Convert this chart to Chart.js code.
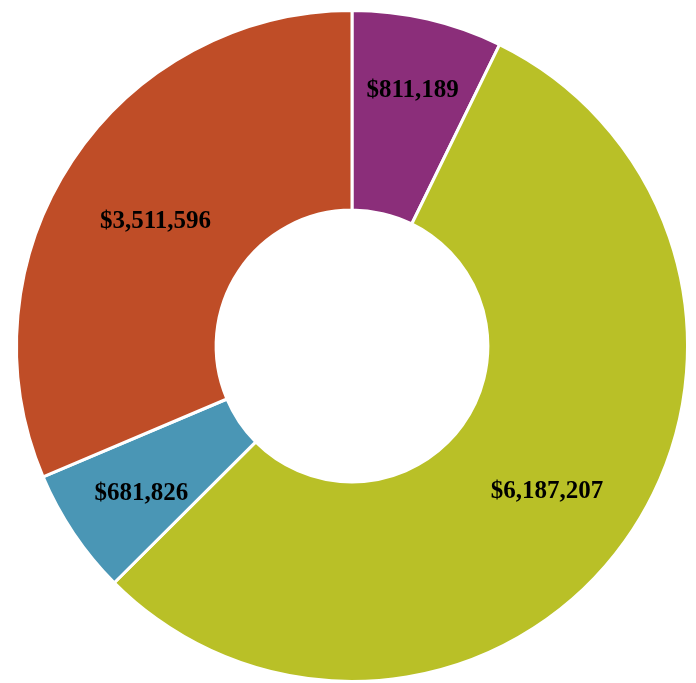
<!DOCTYPE html>
<html>
<head>
<meta charset="utf-8">
<script src="https://cdn.jsdelivr.net/npm/chart.js@4.4.1/dist/chart.umd.min.js"></script>
<style>
  body { margin: 0; background: #fff; }
  #myChart { display: block; }
</style>
</head>
<body>
<canvas id="myChart" width="696" height="683"></canvas>
<script>
const categories = ["A", "B", "C", "D"];
const values = [811189, 6187207, 681826, 3511596];
const label_texts = ["$811,189", "$6,187,207", "$681,826", "$3,511,596"];

const slice_colors = ["#8b2e7a", "#b9c027", "#4a96b5", "#bf4d27"];
// narrow slices have their label pushed out a bit
const label_push = [33, 4, 18, 0];

const valueLabels = {
  id: "valueLabels",
  afterDatasetsDraw(chart) {
    const ctx = chart.ctx;
    const meta = chart.getDatasetMeta(0);
    ctx.save();
    ctx.font = "bold 25px 'Liberation Serif', 'Times New Roman', serif";
    ctx.fillStyle = "#000";
    ctx.textAlign = "center";
    ctx.textBaseline = "middle";
    meta.data.forEach(function (arc, i) {
      const p = arc.getProps(["x", "y", "startAngle", "endAngle", "innerRadius", "outerRadius"], true);
      const mid = (p.startAngle + p.endAngle) / 2;
      const r = (p.innerRadius + p.outerRadius) / 2 + label_push[i];
      ctx.fillText(label_texts[i], p.x + Math.cos(mid) * r, p.y + Math.sin(mid) * r + 6);
    });
    ctx.restore();
  }
};

const ctx = document.getElementById("myChart").getContext("2d");
const myChart = new Chart(ctx, {
  type: "doughnut",
  data: {
    labels: categories,
    datasets: [
      {
        data: values,
        backgroundColor: slice_colors,
        borderColor: "#ffffff",
        borderWidth: 3,
      },
    ],
  },
  options: {
    responsive: false,
    animation: false,
    cutout: "40.5%",
    layout: {
      padding: { top: 9, bottom: 0, left: 8, right: 0 },
    },
    plugins: {
      legend: { display: false },
      tooltip: { enabled: false },
    },
  },
  plugins: [valueLabels],
});
</script>
</body>
</html>
